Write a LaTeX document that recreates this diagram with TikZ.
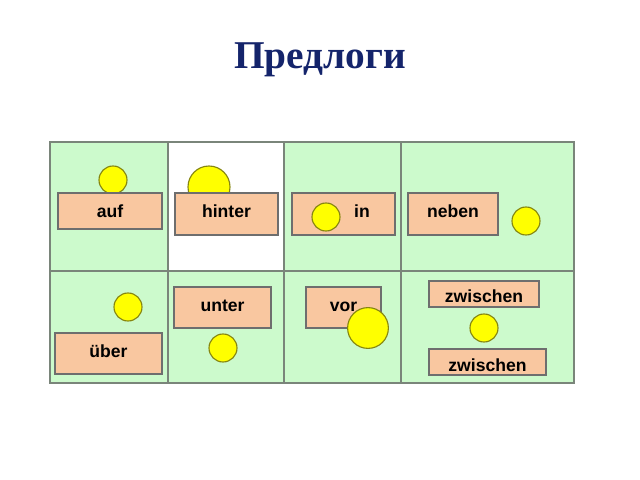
\documentclass[tikz,border=0pt]{standalone}
\usepackage{fontspec}
\setmainfont{Liberation Serif}
\setsansfont{Liberation Sans}
\usepackage{xcolor}
\usepackage{tikz}

\definecolor{titleblue}{HTML}{14246B}
\definecolor{cellgreen}{HTML}{CCFACC}
\definecolor{gridgray}{HTML}{7A857A}
\definecolor{peach}{HTML}{F9C7A0}
\definecolor{boxgray}{HTML}{6E6E6E}
\definecolor{sunyellow}{HTML}{FFFF00}
\definecolor{sunedge}{HTML}{858510}

\begin{document}
\begin{tikzpicture}[
    x=0.025cm, y=-0.025cm,
    box/.style={rectangle, draw=boxgray, fill=peach, line width=0.8pt, minimum height=1.05cm,
        inner sep=0pt, font=\sffamily\bfseries\fontsize{12.5}{14}\selectfont, align=center},
    raised/.style={text height=9pt, text depth=4pt},
    lowered/.style={text height=#1, text depth=0pt},
    word/.style={inner sep=0pt, font=\sffamily\bfseries\fontsize{12.5}{14}\selectfont},
    sun/.style={circle, draw=sunedge, fill=sunyellow, line width=0.8pt, minimum size=0.7cm, inner sep=0pt},
    bigsun/.style={sun, minimum size=1.02cm},
    grid/.style={draw=gridgray, line width=1.7pt}
]
    \useasboundingbox (0,0) rectangle (640,480);

    % Title
    \node[font=\bfseries\fontsize{28}{32}\selectfont, text=titleblue] (title) at (320,60) {Предлоги};

    % Table
    \fill[cellgreen] (50,142) rectangle (574,383);
    \fill[white] (168,142) rectangle (284,271);
    \draw[grid] (50,142) rectangle (574,383);
    \draw[grid] (50,271) -- (574,271);
    \foreach \x in {168,284,401}
        \draw[grid] (\x,142) -- (\x,383);

    % Suns behind boxes
    \node[sun] (aufsun) at (113,180) {};
    \node[bigsun, minimum size=1.05cm] (hintersun) at (209,187) {};

    % Boxes
    \node[box, minimum width=2.6cm, minimum height=0.9cm] (auf) at (110,211) {auf};
    \node[box, raised, minimum width=2.575cm] (hinter) at (226.5,214) {hinter};
    \node[box, minimum width=2.575cm] (inbox) at (343.5,214) {};
    \node[word] (in) at (362,211) {in};
    \node[box, raised, minimum width=2.25cm] (neben) at (453,214) {neben};
    \node[box, raised, minimum width=2.675cm, minimum height=1.025cm] (uber) at (108.5,353.5) {über};
    \node[box, raised, minimum width=2.425cm, minimum height=1.025cm] (unter) at (222.5,307.5) {unter};
    \node[box, raised, minimum width=1.875cm, minimum height=1.025cm] (vor) at (343.5,307.5) {vor};
    \node[box, lowered=11.5pt, minimum width=2.75cm, minimum height=0.65cm] (zwischen1) at (484,294) {zwischen};
    \node[box, lowered=13pt, minimum width=2.925cm, minimum height=0.65cm] (zwischen2) at (487.5,362) {zwischen};

    % Suns in front
    \node[sun] (insun) at (326,217) {};
    \node[sun] (nebensun) at (526,221) {};
    \node[sun] (ubersun) at (128,307) {};
    \node[sun] (untersun) at (223,348) {};
    \node[bigsun] (vorsun) at (368,328) {};
    \node[sun] (zwischensun) at (484,328) {};
\end{tikzpicture}
\end{document}
